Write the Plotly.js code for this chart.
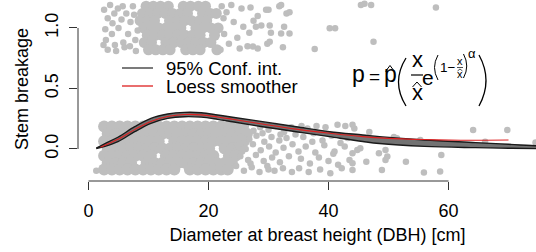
<!DOCTYPE html>
<html><head><meta charset="utf-8">
<script src="https://cdn.plot.ly/plotly-3.0.1.min.js"></script>
<style>
html,body{margin:0;padding:0;width:536px;height:252px;overflow:hidden;background:#fff;}
#chart{position:absolute;left:0;top:-3px;width:557px;height:255px;}
</style></head>
<body><div id="chart"></div>
<script>
// ---------- data ----------
const xTicks = [0, 20, 40, 60];
const yTicks = [0, 0.5, 1];
const yTickText = ['0.0', '0.5', '1.0'];

// dense part of the "no breakage" band (jittered around 0)
const botDenseRowY = [0.185, 0.125, 0.065, 0.005, -0.055, -0.115, -0.17];
const botDenseRowX = [
  [2.6,3.9,5.2,6.5,7.8,9.1,10.4,11.7,13.0,14.3,15.6,16.9,18.2,19.5,20.8,22.1,23.4,24.7,25.7],
  [3.2,4.5,5.8,7.1,8.4,9.7,11.0,12.3,13.6,14.9,16.2,17.5,18.8,20.1,21.4,22.7,24.0,25.3,26.4],
  [2.6,3.9,5.2,6.5,7.8,9.1,10.4,11.7,14.3,15.6,16.9,18.2,19.5,20.8,22.1,23.4,24.7,25.9],
  [3.2,4.5,5.8,7.1,8.4,9.7,11.0,12.3,13.6,14.9,16.2,17.5,18.8,20.1,22.7,24.0,25.1],
  [2.6,3.9,5.2,6.5,7.8,9.1,10.4,12.9,14.3,15.6,16.9,18.2,19.5,20.8,23.4,24.5],
  [3.2,4.5,5.8,7.1,9.7,11.0,12.3,13.6,14.9,16.2,17.5,18.8,20.1,21.4,22.7,23.9],
  [2.6,3.9,5.2,6.5,7.8,9.1,10.4,11.7,13.0,14.3,16.9,18.2,19.5,20.8,22.1,23.2]
];
// scattered points of the "no breakage" band
const botPts = [
  [1.3,-0.18],
  [24.8,0.17],[26.2,0.19],[27.5,0.15],[28.6,0.18],[30.0,0.16],[31.2,0.19],[32.6,0.14],[33.8,0.18],
  [25.5,0.1],[26.8,0.08],[28.0,0.11],[29.3,0.06],[30.5,0.1],[31.8,0.07],[33.0,0.09],[34.5,0.12],
  [24.9,0.03],[26.2,0.0],[27.4,0.04],[28.7,-0.01],[30.1,0.02],[31.2,-0.03],[32.5,0.01],[34.0,0.04],
  [25.3,-0.06],[26.6,-0.09],[27.9,-0.05],[29.2,-0.1],[30.6,-0.07],[31.9,-0.11],[33.4,-0.06],[35.0,-0.02],
  [24.6,-0.14],[25.9,-0.18],[27.2,-0.15],[28.5,-0.19],[29.8,-0.14],[31.0,-0.18],[32.4,-0.16],[33.9,-0.19],
  [26.0,0.14],[29.0,0.13],[27.0,-0.12],[30.0,-0.17],[32.0,0.12],[25.6,-0.02],
  [35.5,0.19],[36.5,0.17],[38.0,0.19],[39.5,0.18],[41.5,0.2],[42.8,0.19],[44.0,0.2],[44.3,0.17],
  [35.8,0.1],[37.5,0.13],[39.0,0.07],[40.5,0.11],[42.0,0.05],[43.2,0.09],[46.8,0.14],
  [36.2,0.02],[37.8,-0.03],[39.3,0.03],[40.8,-0.04],[42.7,0.02],[44.0,-0.036],[44.8,-0.008],[45.3,0.006],
  [35.4,-0.08],[36.9,-0.12],[38.4,-0.07],[40.0,-0.1],[41.6,-0.13],[43.5,-0.09],[44.0,-0.118],[46.3,-0.105],
  [35.1,-0.16],[36.7,-0.19],[38.6,-0.17],[40.3,-0.2],[42.2,-0.16],[44.0,-0.174],[37.3,0.06],[41.0,-0.02],
  [48.4,-0.036],[49.5,-0.008],[49.8,-0.063],[49.5,-0.09],[48.9,-0.174],[52.9,-0.105],[58.8,-0.05],
  [55.9,-0.195],[58.6,-0.187],[50.9,0.10],[51.4,0.088],[55.3,0.074],[64.1,0.157],[69.8,0.157],
  [66.1,0.06],[74.5,0.053]
];

// dense part of the "breakage" band (jittered around 1)
const topDenseRowY = [1.18, 1.12, 1.06, 1.0, 0.94, 0.88, 0.82];
const topDenseRowX = [
  [9.6,10.8,12.0,13.3,15.8,17.0,18.3,19.5],
  [9.0,10.3,11.5,12.8,14.0,15.3,16.5,19.0,20.3,21.3],
  [8.6,9.8,11.0,13.5,14.8,16.0,17.2,18.5,19.7],
  [9.2,10.5,11.7,12.9,14.2,15.4,17.9,19.1,20.4,21.6],
  [9.8,11.1,12.3,13.6,14.8,16.1,17.3,18.6,21.0],
  [9.3,10.5,12.9,14.2,15.5,16.7,17.9,19.2,20.4],
  [10.0,11.2,12.4,13.6,16.2,17.4,18.6,21.4]
];
const topPts = [
  [2.6,1.15],[3.2,1.08],[4.3,1.12],[2.8,0.99],[3.9,0.95],[5.0,1.0],[2.9,0.9],[4.4,0.86],[5.8,0.88],
  [3.2,0.82],[4.6,0.81],[6.0,0.84],[7.4,1.18],[5.7,1.18],[7.0,1.05],[6.6,0.95],[7.8,0.9],[5.5,1.07],
  [3.6,1.19],[7.9,0.81],[6.3,1.12],[2.5,0.86],[4.9,1.16],[7.6,1.11],[8.2,0.98],[6.9,0.85],[4.0,1.04],
  [22.2,1.18],[23.8,1.19],[25.5,1.16],[27.0,1.17],[28.2,1.10],[30.0,1.15],[31.8,1.18],[33.0,1.12],
  [22.5,1.08],[24.2,1.05],[25.8,1.01],[26.8,0.96],[28.8,1.02],[30.4,0.96],[32.6,1.01],[22.6,0.95],
  [24.8,0.92],[26.5,0.85],[28.2,0.83],[25.2,0.83],[29.8,0.87],[32.4,0.84],[23.4,0.87],[22.0,0.82],
  [23.0,1.13],[27.5,1.06],[29.6,1.15],[32.1,1.19],[33.5,1.13],[30.2,1.02],[32.1,0.955],[33.5,0.955],
  [30.2,0.887],[27.9,1.01],[27.4,0.846],
  [37.7,0.826],[40.2,0.997],[41.1,0.997],[45.4,1.19],[46.0,1.2],[47.1,1.19],[47.5,0.887],[57.9,1.17]
];

// fitted curve, 95% confidence band
const bandX = [1.3, 2.75, 4.9, 7.7, 10.4, 13.2, 16, 18.8, 21.5, 24, 29, 34.6, 40.2, 45.7, 48.5, 56, 64.5, 70, 75, 79];
const bandUpper = [0.008, 0.045, 0.097, 0.184, 0.253, 0.289, 0.303, 0.30, 0.281, 0.262, 0.226, 0.184, 0.143, 0.116, 0.102, 0.074, 0.053, 0.039, 0.025, 0.02];
const bandLower = [0.004, 0.022, 0.061, 0.143, 0.212, 0.253, 0.267, 0.263, 0.245, 0.225, 0.184, 0.143, 0.102, 0.062, 0.045, 0.022, 0.011, 0.006, 0.003, 0.002];
// loess smoother
const loessX = [2, 4.9, 7.7, 10.4, 13.2, 16, 18.8, 21.5, 24, 29, 34.6, 40.2, 45.7, 50, 56, 62, 66, 70];
const loessY = [0.015, 0.08, 0.16, 0.228, 0.268, 0.285, 0.282, 0.265, 0.246, 0.206, 0.164, 0.13, 0.102, 0.088, 0.078, 0.072, 0.072, 0.074];

const legendLabels = ['95% Conf. int.', 'Loess smoother'];

// ---------- build ----------
function flattenRows(rowsX, rowsY) {
  const xs = [], ys = [];
  rowsX.forEach((row, i) => row.forEach(v => { xs.push(v); ys.push(rowsY[i]); }));
  return {x: xs, y: ys};
}
const botDense = flattenRows(botDenseRowX, botDenseRowY);
const topDense = flattenRows(topDenseRowX, topDenseRowY);
const GREY = '#BEBEBE';
const FONT = 'Liberation Sans, Arial, Helvetica, sans-serif';

const traces = [
  {x: botDense.x, y: botDense.y, mode: 'markers', type: 'scatter', marker: {color: GREY, size: 12, line: {width: 0}}},
  {x: topDense.x, y: topDense.y, mode: 'markers', type: 'scatter', marker: {color: GREY, size: 11, line: {width: 0}}},
  {x: botPts.map(p => p[0]), y: botPts.map(p => p[1]), mode: 'markers', type: 'scatter', marker: {color: GREY, size: 6.5, line: {width: 0}}},
  {x: topPts.map(p => p[0]), y: topPts.map(p => p[1]), mode: 'markers', type: 'scatter', marker: {color: GREY, size: 6.5, line: {width: 0}}},
  {x: bandX, y: bandLower, mode: 'lines', type: 'scatter', line: {color: '#1a1a1a', width: 1.4, shape: 'spline'}},
  {x: bandX, y: bandUpper, mode: 'lines', type: 'scatter', fill: 'tonexty', fillcolor: '#727272', line: {color: '#1a1a1a', width: 1.4, shape: 'spline'}},
  {x: loessX, y: loessY, mode: 'lines', type: 'scatter', line: {color: '#dd2020', width: 1.1, shape: 'spline'}}
];

// page pixel -> paper coords (plot area: x 78..557, y -3..181 in page pixels)
const PX = px => (px - 78) / 479;
const PY = py => (181 - py) / 184;
function txt(text, px, py, size, xanchor) {
  return {text: text, x: PX(px), y: PY(py), xref: 'paper', yref: 'paper', showarrow: false,
    xanchor: xanchor || 'center', yanchor: 'middle', font: {family: FONT, size: size, color: '#000'}};
}
function path(d, w, color) {
  const s = d.replace(/(-?\d+\.?\d*),(-?\d+\.?\d*)/g, (m, a, b) => PX(+a).toFixed(5) + ',' + PY(+b).toFixed(5));
  return {type: 'path', path: s, xref: 'paper', yref: 'paper', line: {color: color || '#000', width: w || 1.2}};
}

const annotations = [
  txt(legendLabels[0], 164, 68, 18.5, 'left'),
  txt(legendLabels[1], 164, 86, 18.5, 'left'),
  // formula
  txt('p', 358, 74, 23),
  txt('=', 374, 76, 19),
  txt('p', 390, 74, 23),
  txt('x', 417, 60, 22),
  txt('x', 417, 92, 22),
  txt('e', 428, 78, 21),
  txt('1\u2212', 448, 67, 13.5, 'center'),
  txt('x', 460, 61, 11),
  txt('x', 460, 74, 11),
  txt('\u03B1', 472, 53, 13)
];

const shapes = [
  // R-style axis lines spanning the ticks
  {type: 'line', xref: 'x', yref: 'paper', x0: xTicks[0], x1: xTicks[xTicks.length - 1], y0: 0, y1: 0, line: {color: '#333', width: 1}},
  {type: 'line', xref: 'paper', yref: 'y', x0: 0, x1: 0, y0: yTicks[0], y1: yTicks[yTicks.length - 1], line: {color: '#333', width: 1}},
  // legend keys
  path('M122,68 L153,68', 1.3, '#333'),
  path('M122,86 L153,86', 1.3, '#dd2020'),
  // formula decorations
  path('M385.5,71.5 L390,65.5 L394.5,71.5', 1),
  path('M406,58 Q391,82 406,106', 1.3),
  path('M411,75 L423,75', 1.2),
  path('M412.5,87 L417,82 L421.5,87', 1),
  path('M438,55 Q431,67.5 438,80', 1),
  path('M457,67.5 L463,67.5', 0.7),
  path('M457.5,71 L460,69 L462.5,71', 0.7),
  path('M463.5,54 Q470,66 463.5,78', 1),
  path('M479,55 Q493,80.5 479,106', 1.3)
];

const layout = {
  width: 557, height: 255,
  margin: {l: 78, r: 0, t: 0, b: 71},
  paper_bgcolor: '#fff', plot_bgcolor: '#fff',
  showlegend: false,
  font: {family: FONT, color: '#000'},
  xaxis: {
    range: [-1.75, 78.08], tickvals: xTicks, ticks: 'outside', ticklen: 8, tickwidth: 1, tickcolor: '#333',
    ticklabelstandoff: 5,
    showgrid: false, zeroline: false, showline: false, tickfont: {size: 18, family: FONT, color: '#000'},
    title: {text: 'Diameter at breast height (DBH) [cm]', font: {size: 18, family: FONT, color: '#000'}, standoff: 8}
  },
  yaxis: {
    range: [-0.2645, 1.256], tickvals: yTicks, ticktext: yTickText, tickangle: -90, ticks: 'outside', ticklen: 8,
    ticklabelstandoff: 4,
    tickwidth: 1, tickcolor: '#333', showgrid: false, zeroline: false, showline: false,
    tickfont: {size: 18, family: FONT, color: '#000'},
    title: {text: 'Stem breakage', font: {size: 18, family: FONT, color: '#000'}, standoff: 8}
  },
  annotations: annotations,
  shapes: shapes
};

Plotly.newPlot('chart', traces, layout, {staticPlot: true, displayModeBar: false});
</script>
</body></html>
